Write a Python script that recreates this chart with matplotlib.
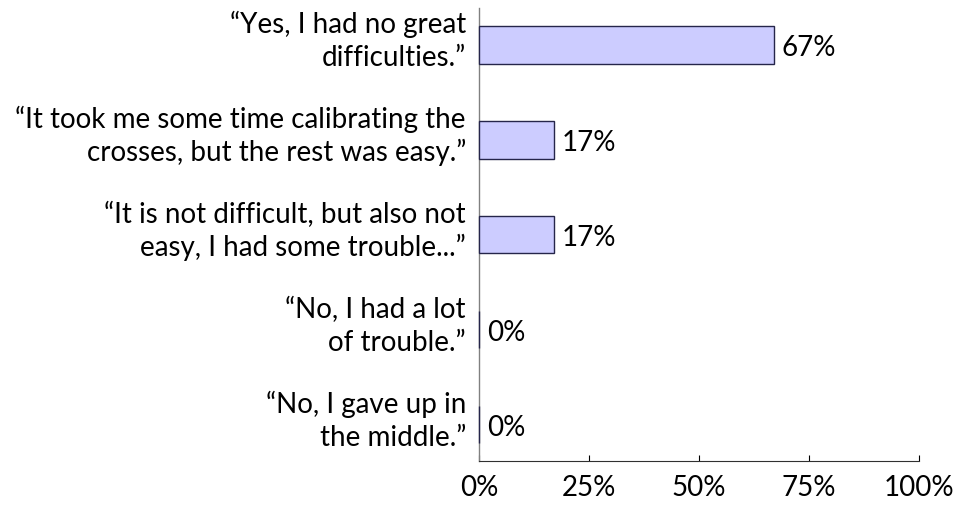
import matplotlib
matplotlib.use('Agg')
import matplotlib.pyplot as plt

plt.rcParams['font.family'] = ['Lato', 'DejaVu Sans']

# answers, top to bottom as in the figure (two lines each)
answers = [
    ('\u201cYes, I had no great', 'difficulties.\u201d'),
    ('\u201cIt took me some time calibrating the', 'crosses, but the rest was easy.\u201d'),
    ('\u201cIt is not difficult, but also not', 'easy, I had some trouble...\u201d'),
    ('\u201cNo, I had a lot', 'of trouble.\u201d'),
    ('\u201cNo, I gave up in', 'the middle.\u201d'),
]
shares = [67, 17, 17, 0, 0]
x_ticks = [0, 25, 50, 75, 100]
x_tick_labels = ['0%', '25%', '50%', '75%', '100%']

FS = 20

fig = plt.figure(figsize=(9.57, 5.08), dpi=100)
ax = fig.add_axes([0.5005, 0.0925, 0.4598, 0.8918])

ypos = list(range(len(answers) - 1, -1, -1))
ax.barh(ypos, shares, height=0.39, color='#ccccff', edgecolor='#25254a',
        linewidth=1.0, zorder=3, clip_on=False)

# value labels right of each bar
for y, v in zip(ypos, shares):
    ax.annotate(f'{v}%', xy=(v, y), xytext=(8, -11), textcoords='offset pixels',
                ha='left', va='baseline', fontsize=FS)

# category labels, right aligned against the axis, two lines per answer
ytr = ax.get_yaxis_transform()
for y, (first, second) in zip(ypos, answers):
    ax.annotate(first, xy=(0, y), xycoords=ytr, xytext=(-13, 12),
                textcoords='offset pixels', ha='right', va='baseline', fontsize=FS)
    ax.annotate(second, xy=(0, y), xycoords=ytr, xytext=(-13, -21),
                textcoords='offset pixels', ha='right', va='baseline', fontsize=FS)

ax.set_xlim(0, 100)
ax.set_ylim(-0.38, 4.39)
ax.set_xticks(x_ticks)
ax.set_xticklabels(x_tick_labels, fontsize=FS)
ax.set_yticks([])

ax.tick_params(axis='x', direction='in', length=4, width=0.8, pad=10)

for side in ('top', 'right'):
    ax.spines[side].set_visible(False)
ax.spines['left'].set_color('#808080')
ax.spines['left'].set_linewidth(1.0)
ax.spines['bottom'].set_color('#303030')
ax.spines['bottom'].set_linewidth(0.8)

fig.savefig('out.png', dpi=100, facecolor='white')
